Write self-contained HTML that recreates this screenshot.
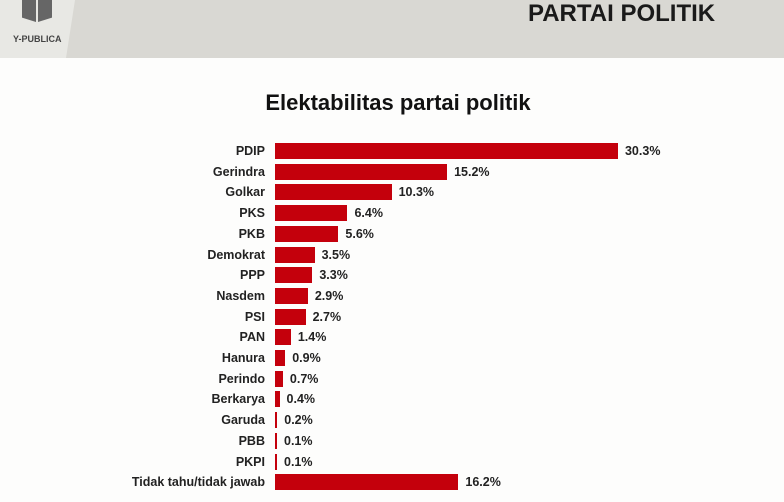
<!DOCTYPE html>
<html><head><style>
body{margin:0;width:784px;height:502px;background:#fdfdfc;position:relative;overflow:hidden;font-family:"Liberation Sans",sans-serif}
.hdr{position:absolute;left:0;top:0;width:784px;height:58px;background:#d9d8d3}
.lg{position:absolute;left:0;top:0;width:75px;height:58px;background:#e8e8e4;clip-path:polygon(0 0,75px 0,66px 58px,0 58px)}
.t1{position:absolute;left:528px;top:0px;font-size:24px;font-weight:bold;color:#1a1a1a}
.t2{position:absolute;left:0;width:784px;text-align:center;left:6px;top:90px;font-size:22px;font-weight:bold;color:#111}
.l{position:absolute;right:519px;font-size:12.5px;font-weight:bold;color:#222;text-align:right;white-space:nowrap}
.b{position:absolute;left:275px;height:16px;background:#c4000c}
.v{position:absolute;font-size:12.5px;font-weight:bold;color:#222}
</style></head><body>
<div class="hdr"></div><div class="lg"></div>
<div style="position:absolute;left:22px;top:0;width:14px;height:22px;background:#666;clip-path:polygon(0 0,100% 0,100% 100%,0 80%)"></div>
<div style="position:absolute;left:38px;top:0;width:14px;height:22px;background:#666;clip-path:polygon(0 0,100% 0,100% 80%,0 100%)"></div>
<div style="position:absolute;left:13px;top:34px;font-size:9px;font-weight:bold;color:#444">Y-PUBLICA</div>
<div class="t1">PARTAI POLITIK</div>
<div class="t2">Elektabilitas partai politik</div>
<div id="c"></div>
<script>
var d=[["PDIP",30.3],["Gerindra",15.2],["Golkar",10.3],["PKS",6.4],["PKB",5.6],["Demokrat",3.5],["PPP",3.3],["Nasdem",2.9],["PSI",2.7],["PAN",1.4],["Hanura",0.9],["Perindo",0.7],["Berkarya",0.4],["Garuda",0.2],["PBB",0.1],["PKPI",0.1],["Tidak tahu/tidak jawab",16.2]];
var h="";d.forEach(function(r,i){var c=151+i*20.7;var w=Math.max(r[1]*11.32,2);
h+='<div class="l" style="top:'+(c-7)+'px">'+r[0]+'</div><div class="b" style="top:'+(c-8)+'px;width:'+w+'px"></div><div class="v" style="top:'+(c-7)+'px;left:'+(275+w+7)+'px">'+r[1].toFixed(1)+'%</div>';});
document.getElementById("c").innerHTML=h;
</script>
</body></html>
